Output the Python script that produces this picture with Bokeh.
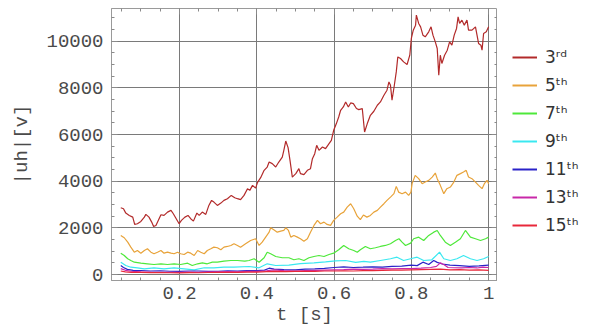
from bokeh.plotting import figure
from bokeh.layouts import row
from bokeh.models import (Range1d, SingleIntervalTicker, CustomJSTickFormatter,
                          Legend, LegendItem, LinearAxis)
from bokeh.embed import file_html
from bokeh.resources import INLINE

# Harmonic amplitudes |uh| [V] over time t [s]
t3 = [0.048,0.055,0.061,0.070,0.079,0.084,0.091,0.100,0.109,0.113,
      0.121,0.128,0.133,0.139,0.145,0.152,0.160,0.169,0.178,0.184,
      0.190,0.199,0.205,0.214,0.222,0.229,0.236,0.245,0.251,0.259,
      0.268,0.276,0.283,0.289,0.298,0.307,0.315,0.324,0.334,0.343,
      0.350,0.358,0.367,0.376,0.382,0.389,0.397,0.402,0.410,0.419,
      0.427,0.432,0.440,0.449,0.457,0.466,0.470,0.475,0.481,0.486,
      0.492,0.501,0.509,0.513,0.522,0.531,0.539,0.544,0.550,0.555,
      0.561,0.570,0.578,0.587,0.593,0.599,0.606,0.612,0.617,0.624,
      0.630,0.637,0.643,0.650,0.658,0.664,0.673,0.679,0.686,0.694,
      0.703,0.712,0.720,0.729,0.737,0.742,0.746,0.750,0.756,0.761,
      0.765,0.772,0.780,0.789,0.796,0.800,0.805,0.811,0.813,0.819,
      0.824,0.830,0.836,0.845,0.851,0.856,0.862,0.867,0.871,0.875,
      0.879,0.886,0.893,0.899,0.905,0.911,0.917,0.921,0.925,0.931,
      0.937,0.944,0.948,0.957,0.966,0.970,0.974,0.980,0.983,0.987,
      0.994,1.000]
uh3 = [2862,2820,2631,2532,2459,2146,2176,2275,2459,2575,
       2459,2245,2060,2103,2318,2562,2532,2674,2747,2605,
       2433,2176,2318,2459,2532,2390,2288,2631,2532,2674,
       2575,2961,3176,3103,2961,3060,3176,3249,3391,3292,
       3249,3206,3391,3678,3605,3820,3700,3950,4150,4464,
       4605,4820,4751,4605,4820,5034,5322,5721,5438,4893,
       4176,4322,4536,4322,4279,4464,4536,4966,5180,5536,
       5322,5464,5395,5609,5751,6180,6468,6751,7039,7180,
       7395,7180,7352,7326,7112,7068,7112,6107,6468,6824,
       6996,7253,7395,7682,7897,8253,8112,7468,8112,8682,
       9326,9258,9112,9000,9399,10116,10472,10687,11116,10760,
       10614,10258,10185,10399,10614,10258,9970,9687,8541,9399,
       9043,9399,9614,9970,9828,10258,10545,11043,10760,10901,
       10687,10901,10472,10472,10614,10258,9901,9828,9614,10330,
       10399,10614]

t5 = [0.048,0.057,0.066,0.074,0.083,0.091,0.100,0.109,0.117,0.126,
      0.134,0.143,0.152,0.160,0.169,0.178,0.186,0.195,0.203,0.212,
      0.221,0.229,0.238,0.247,0.255,0.264,0.272,0.281,0.289,0.298,
      0.307,0.315,0.324,0.333,0.341,0.350,0.358,0.371,0.384,0.397,
      0.406,0.414,0.423,0.432,0.436,0.444,0.453,0.462,0.470,0.475,
      0.482,0.488,0.496,0.505,0.513,0.522,0.531,0.539,0.548,0.557,
      0.565,0.574,0.582,0.591,0.599,0.608,0.617,0.625,0.634,0.643,
      0.651,0.660,0.668,0.676,0.685,0.694,0.703,0.712,0.720,0.729,
      0.737,0.746,0.755,0.761,0.767,0.776,0.785,0.793,0.799,0.802,
      0.810,0.819,0.828,0.836,0.845,0.854,0.862,0.867,0.875,0.884,
      0.892,0.901,0.910,0.918,0.927,0.935,0.942,0.948,0.957,0.966,
      0.974,0.983,0.989,0.996,1.000]
uh5 = [1674,1575,1386,1172,957,1030,914,1030,1103,957,
       888,957,1030,914,957,914,888,957,888,858,
       957,914,815,1030,957,888,1030,1103,1172,1146,
       1060,1172,1202,1245,1318,1245,1172,1318,1459,1532,
       1245,1386,1601,1815,2004,1918,1815,1858,1888,2004,
       1888,1601,1674,1601,1532,1429,1532,1815,2103,2318,
       2176,2245,2146,2103,2318,2459,2605,2674,2888,3034,
       2820,2500,2350,2550,2459,2532,2674,2747,2888,3034,
       3176,3318,3464,3777,3532,3464,3532,3391,3532,3893,
       4249,4107,3893,3961,4034,4176,4348,4107,3820,3464,
       3678,3747,3961,4249,4322,4391,4464,4176,4107,3961,
       3820,3678,3893,4034,3893]

t7 = [0.048,0.057,0.066,0.074,0.083,0.100,0.117,0.134,0.152,0.169,
      0.186,0.203,0.221,0.233,0.247,0.259,0.272,0.285,0.298,0.315,
      0.333,0.350,0.369,0.380,0.393,0.406,0.419,0.427,0.436,0.449,
      0.466,0.483,0.496,0.509,0.522,0.535,0.548,0.561,0.574,0.587,
      0.599,0.612,0.625,0.638,0.651,0.660,0.668,0.681,0.694,0.707,
      0.720,0.733,0.746,0.759,0.768,0.776,0.785,0.798,0.806,0.819,
      0.832,0.845,0.858,0.867,0.875,0.888,0.901,0.914,0.927,0.940,
      0.953,0.966,0.979,0.992,1.000]
uh7 = [914,815,674,601,528,485,459,429,459,429,
       459,429,485,386,459,502,459,528,528,571,
       601,601,571,601,674,528,717,957,888,772,
       717,717,631,674,601,717,772,815,772,858,
       914,1060,1245,1103,1030,957,1060,1202,1103,1146,
       1202,1245,1318,1459,1532,1386,1245,1343,1532,1601,
       1459,1674,1815,1888,1674,1386,1245,1386,1532,1888,
       1601,1532,1459,1532,1601]

t9 = [0.048,0.061,0.074,0.091,0.109,0.134,0.160,0.186,0.212,0.238,
      0.264,0.289,0.315,0.341,0.380,0.406,0.427,0.449,0.483,0.513,
      0.548,0.578,0.604,0.630,0.656,0.677,0.694,0.720,0.746,0.763,
      0.780,0.798,0.815,0.832,0.853,0.873,0.884,0.901,0.918,0.935,
      0.953,0.970,0.987,1.000]
uh9 = [528,386,313,288,245,288,245,288,245,202,
       288,288,313,313,343,288,459,386,400,470,
       500,540,580,601,520,560,528,601,674,743,
       601,674,743,601,631,957,674,601,674,815,
       674,601,674,772]

t11 = [0.048,0.055,0.065,0.080,0.100,0.125,0.150,0.175,0.200,0.225,
       0.250,0.275,0.300,0.325,0.350,0.375,0.400,0.420,0.432,0.445,
       0.470,0.500,0.525,0.550,0.575,0.600,0.625,0.650,0.675,0.700,
       0.725,0.750,0.775,0.800,0.815,0.830,0.845,0.858,0.867,0.880,
       0.900,0.925,0.950,0.975,1.000]
uh11 = [386,300,220,180,172,150,160,140,130,150,
        150,130,140,160,150,170,170,190,270,230,
        210,200,230,240,260,300,330,300,313,330,
        320,350,360,400,380,528,430,600,520,450,
        400,380,350,370,400]

t13 = [0.048,0.060,0.075,0.100,0.125,0.150,0.175,0.200,0.225,0.250,
       0.275,0.300,0.325,0.350,0.375,0.400,0.425,0.445,0.470,0.500,
       0.525,0.550,0.575,0.600,0.625,0.650,0.675,0.700,0.725,0.750,
       0.775,0.800,0.825,0.850,0.865,0.875,0.885,0.895,0.910,0.930,
       0.950,0.970,0.985,1.000]
uh13 = [250,180,140,110,100,95,90,90,100,95,
        110,110,120,115,130,130,160,200,170,150,
        170,180,190,200,210,230,220,230,250,240,
        250,250,270,300,350,500,420,300,290,280,
        300,280,320,300]

t15 = [0.048,0.060,0.075,0.100,0.125,0.150,0.175,0.200,0.225,0.250,
       0.275,0.300,0.325,0.350,0.375,0.400,0.425,0.450,0.475,0.500,
       0.525,0.550,0.575,0.600,0.625,0.650,0.675,0.700,0.725,0.750,
       0.775,0.800,0.825,0.850,0.875,0.900,0.925,0.950,0.975,1.000]
uh15 = [150,110,95,90,80,85,75,70,80,75,
        85,90,95,90,100,100,120,130,120,130,
        140,130,150,150,160,150,170,170,180,190,
        190,200,210,220,230,200,210,190,200,180]

labels = ["3ʳᵈ", "5ᵗʰ", "7ᵗʰ", "9ᵗʰ", "11ᵗʰ", "13ᵗʰ", "15ᵗʰ"]
colors = ["#b22a2a", "#e8a33a", "#4ee83a", "#3ae8f0", "#2a22c8", "#c828a8", "#e8283a"]
series = [(t3, uh3), (t5, uh5), (t7, uh7), (t9, uh9),
          (t11, uh11), (t13, uh13), (t15, uh15)]

MONO = "Liberation Mono"
GREY = "#4a4a4a"
TICK = "#8a8a8a"

p = figure(width=497, height=329, output_backend="svg", toolbar_location=None,
           x_range=Range1d(0.024, 1.023), y_range=Range1d(-257, 11400),
           min_border_left=111, min_border_right=0,
           min_border_top=8, min_border_bottom=49,
           background_fill_color="white", border_fill_color="white")

p.outline_line_color = "#9a9a9a"
p.grid.grid_line_color = "#7a7a7a"
p.grid.grid_line_width = 1

xticker = SingleIntervalTicker(interval=0.2, num_minor_ticks=4)
yticker = SingleIntervalTicker(interval=2000, num_minor_ticks=4)
p.xaxis.ticker = xticker
p.yaxis.ticker = yticker
p.xgrid.ticker = xticker
p.ygrid.ticker = yticker
p.xaxis.formatter = CustomJSTickFormatter(code="return String(Math.round(tick * 10) / 10);")

for ax in (p.xaxis[0], p.yaxis[0]):
    ax.axis_line_color = "#9a9a9a"
    ax.major_tick_in = 6
    ax.major_tick_out = 0
    ax.minor_tick_in = 3
    ax.minor_tick_out = 0
    ax.major_tick_line_color = TICK
    ax.minor_tick_line_color = TICK
    ax.major_label_text_font = MONO
    ax.major_label_text_font_size = "19px"
    ax.major_label_text_color = GREY
    ax.axis_label_text_font = MONO
    ax.axis_label_text_font_size = "19px"
    ax.axis_label_text_color = GREY
    ax.axis_label_text_font_style = "normal"

p.xaxis.axis_label = "t [s]"
p.yaxis.axis_label = "|uh|[v]"
p.xaxis.major_label_standoff = 6
p.xaxis.axis_label_standoff = 2
p.yaxis.major_label_standoff = 8
p.yaxis.axis_label_standoff = 10

# inward tick marks along the top and right edges, without labels
blank = CustomJSTickFormatter(code="return '';")
for side, tk in (("above", xticker), ("right", yticker)):
    p.add_layout(LinearAxis(ticker=tk, formatter=blank, axis_line_color=None,
                            major_tick_in=6, major_tick_out=0,
                            minor_tick_in=3, minor_tick_out=0,
                            major_tick_line_color=TICK, minor_tick_line_color=TICK,
                            major_label_standoff=0), side)

for (t, v), col in zip(series, colors):
    p.line(t, v, line_color=col, line_width=1.2)

# legend panel to the right of the plot; its swatch renderers carry the same
# series but lie outside this panel's unit ranges, so only the legend shows
lg = figure(width=100, height=329, output_backend="svg", toolbar_location=None,
            x_range=Range1d(0, 1), y_range=Range1d(0, 1),
            min_border=0, outline_line_color=None,
            background_fill_color="white", border_fill_color="white")
lg.axis.visible = False
lg.grid.visible = False

items = []
for (t, v), lab, col in zip(series, labels, colors):
    r = lg.line(t, v, line_color=col, line_width=2)
    items.append(LegendItem(label=lab, renderers=[r]))

legend = Legend(items=items, location=(15, 45),
                border_line_color=None, background_fill_alpha=0,
                label_text_font="DejaVu Sans", label_text_font_size="17px",
                label_text_color="#333333",
                glyph_width=25, glyph_height=20, label_height=20,
                label_standoff=8, spacing=8, padding=0, margin=0)
lg.add_layout(legend)

open("out.html", "w").write(file_html(row(p, lg), INLINE))
